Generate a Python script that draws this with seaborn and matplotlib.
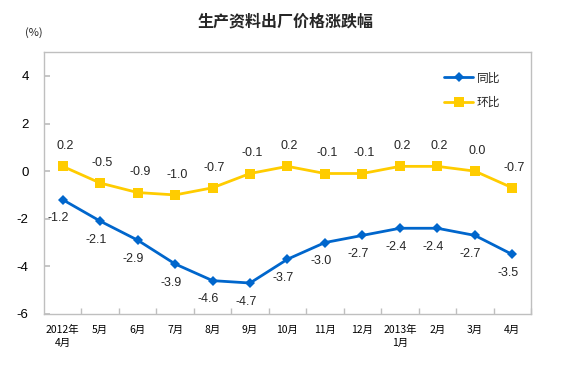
import pandas as pd
import matplotlib
matplotlib.use('Agg')
import matplotlib.pyplot as plt
import seaborn as sns

# data
months = ['2012年\n4月', '5月', '6月', '7月', '8月', '9月', '10月',
          '11月', '12月', '2013年\n1月', '2月', '3月', '4月']
yoy = [-1.2, -2.1, -2.9, -3.9, -4.6, -4.7, -3.7, -3.0, -2.7, -2.4, -2.4, -2.7, -3.5]
mom = [0.2, -0.5, -0.9, -1.0, -0.7, -0.1, 0.2, -0.1, -0.1, 0.2, 0.2, 0.0, -0.7]
series_names = ['同比', '环比']
colors = ['#0066CC', '#FFCC00']


def make_chart():
    sns.set_theme(style='white')
    plt.rcParams['font.family'] = ['Noto Sans CJK SC', 'DejaVu Sans']
    plt.rcParams['axes.unicode_minus'] = False

    df = pd.DataFrame({'idx': range(len(months)), '同比': yoy, '环比': mom})

    fig = plt.figure(figsize=(5.64, 3.72), dpi=100)
    ax = fig.add_axes([0.078, 0.156, 0.8635, 0.704])

    sns.lineplot(data=df, x='idx', y='同比', color=colors[0], marker='D',
                 markersize=5, markeredgewidth=0, linewidth=2, label=series_names[0], ax=ax)
    sns.lineplot(data=df, x='idx', y='环比', color=colors[1], marker='s',
                 markersize=7, markeredgewidth=0, linewidth=2, label=series_names[1], ax=ax)

    # value labels
    for i, v in enumerate(yoy):
        ax.annotate(f'{v:.1f}', (i, v), xytext=(-3, -13.5), textcoords='offset points',
                    ha='center', va='center', fontsize=9, family='Liberation Sans')
    for i, v in enumerate(mom):
        ax.annotate(f'{v:.1f}', (i, v), xytext=(1.5, 14.5), textcoords='offset points',
                    ha='center', va='center', fontsize=9, family='Liberation Sans')

    ax.set_xlim(-0.5, len(months) - 0.5)
    ax.set_ylim(-6, 5)
    ax.set_yticks([-6, -4, -2, 0, 2, 4])
    ax.set_xticks(range(len(months)))
    ax.set_xticklabels(months, fontsize=7.5, linespacing=1.3)
    ax.set_xticks([i + 0.5 for i in range(len(months))], minor=True)
    ax.set_xlabel('')
    ax.set_ylabel('')

    for lab in ax.get_yticklabels():
        lab.set_family('Liberation Sans')
        lab.set_fontsize(9.5)

    ax.tick_params(axis='x', which='major', length=0, pad=8, colors='black')
    ax.tick_params(axis='x', which='minor', direction='in', length=4, color='#bfbfbf', bottom=True)
    ax.tick_params(axis='y', direction='in', length=4, color='#bfbfbf', left=True, pad=11, labelcolor='black')

    for sp in ax.spines.values():
        sp.set_color('#bfbfbf')
        sp.set_linewidth(1)

    handles, labels = ax.get_legend_handles_labels()
    ax.legend(handles, labels, loc='upper left', bbox_to_anchor=(0.787, 0.808),
              bbox_transform=fig.transFigure, frameon=False, fontsize=8.5,
              handlelength=2.5, handletextpad=0.3, labelspacing=0.95,
              borderpad=0, borderaxespad=0)

    fig.text(0.507, 0.943, '生产资料出厂价格涨跌幅', ha='center', va='center',
             fontsize=11.5, fontweight='bold')
    fig.text(0.06, 0.912, '(%)', ha='center', va='center', fontsize=8)

    fig.savefig('out.png', dpi=100)
    plt.close(fig)


if __name__ == '__main__':
    make_chart()
